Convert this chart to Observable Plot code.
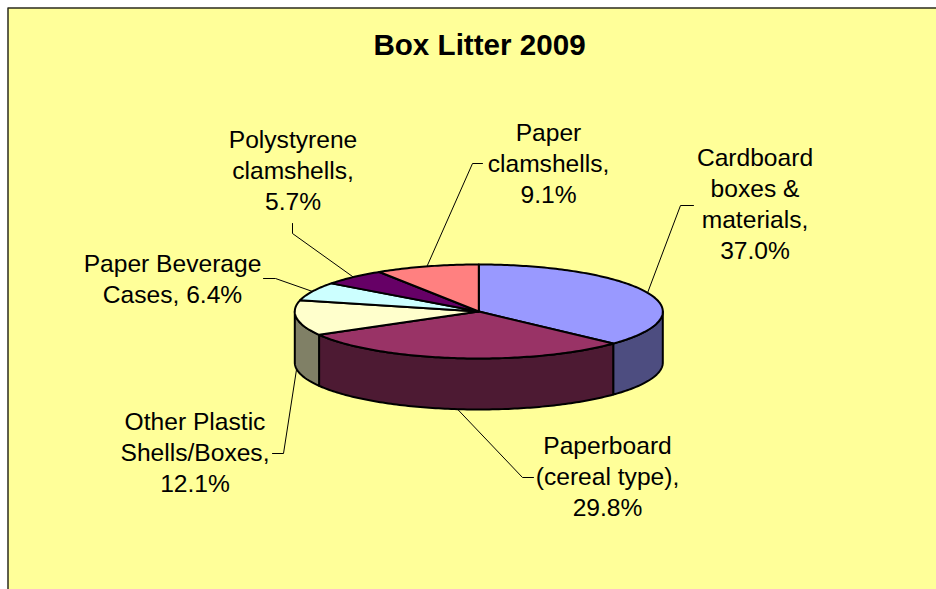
<!DOCTYPE html>
<html>
<head>
<meta charset="utf-8">
<script src="https://cdn.jsdelivr.net/npm/d3@7"></script>
<script src="https://cdn.jsdelivr.net/npm/@observablehq/plot@0.6"></script>
<style>html,body{margin:0;padding:0;background:#fff}svg{display:block}</style>
</head>
<body>
<div id="chart"></div>
<script>
const chartTitle = "Box Litter 2009";
const categories = ["Cardboard boxes & materials","Paperboard (cereal type)","Other Plastic Shells/Boxes","Paper Beverage Cases","Polystyrene clamshells","Paper clamshells"];
const labelLines = ["Cardboard\nboxes &\nmaterials,\n","Paperboard\n(cereal type),\n","Other Plastic\nShells/Boxes,\n","Paper Beverage\nCases, ","Polystyrene\nclamshells,\n","Paper\nclamshells,\n"];
const shares = [37.0,29.8,12.1,6.4,5.7,9.1];
const topColors = ["#9999FF","#993366","#FFFFCC","#CCFFFF","#660066","#FF8080"];
const sideColors = ["#4D4D80","#4D1A33","#808066","#668080","#330033","#804040"];

// layout (separate from the data)
const W = 936, H = 589;
const pie = {cx:478.3, cy:311, rx:184, ry:47, depth:51};
const labelPos = [[754.5,202.5],[607,475],[194.5,451],[172,277],[292.5,169],[548,162]];
const elbows = [[[693,205],[680,205]],[[533,477],[522,477]],[[272,453],[283,453]],[[263,278],[275,278]],[[292,223],[292,233]],[[482,163],[472,163]]];

const total = d3.sum(shares);
const cum = d3.cumsum(shares);
const px = a => pie.cx + pie.rx*Math.sin(a*Math.PI/180);
const py = (a,drop=0) => pie.cy - pie.ry*Math.cos(a*Math.PI/180) + drop;
const arc = (a,b) => {const n=Math.max(2,Math.ceil(Math.abs(b-a))),o=[];for(let i=0;i<=n;i++)o.push(a+(b-a)*i/n);return o;};

const tops=[], sides=[], leaders=[], labels=[];
categories.forEach((name,i)=>{
  const a0=(cum[i]-shares[i])/total*360, a1=cum[i]/total*360, mid=(a0+a1)/2;
  const c={key:name,fill:topColors[i]};
  tops.push({...c,x:pie.cx,y:pie.cy});
  arc(a0,a1).forEach(a=>tops.push({...c,x:px(a),y:py(a)}));
  tops.push({...c,x:pie.cx,y:pie.cy});
  const s0=Math.max(a0,90), s1=Math.min(a1,270);
  if(s1>s0){
    const sc={key:name,fill:sideColors[i]};
    const pts=[...arc(s0,s1).map(a=>({...sc,x:px(a),y:py(a)})),...arc(s1,s0).map(a=>({...sc,x:px(a),y:py(a,pie.depth)}))];
    sides.push(...pts,pts[0]);
  }
  const onSide = mid>90 && mid<270;
  [...elbows[i],[px(mid),py(mid,onSide?pie.depth:0)]].forEach(p=>leaders.push({key:name,x:p[0],y:p[1]}));
  labels.push({x:labelPos[i][0],y:labelPos[i][1],text:`${labelLines[i]}${shares[i].toFixed(1)}%`});
});

const font={fontFamily:"'Liberation Sans',Arial,sans-serif"};
const frame=[{x:7.5,y:H},{x:7.5,y:7.5},{x:W,y:7.5}];

const plot = Plot.plot({
  width:W,height:H,margin:0,
  x:{domain:[0,W],range:[0,W],axis:null},
  y:{domain:[0,H],range:[0,H],axis:null},
  color:{type:"identity"},
  style:{background:"#fff",...font},
  marks:[
    Plot.rect([{x1:8,x2:W,y1:8,y2:H}],{x1:"x1",x2:"x2",y1:"y1",y2:"y2",fill:"#FFFF99"}),
    Plot.line(frame,{x:"x",y:"y",stroke:"#2b2b1e",strokeWidth:1.5}),
    Plot.line(leaders,{x:"x",y:"y",z:"key",stroke:"#000",strokeWidth:1}),
    Plot.line(sides,{x:"x",y:"y",z:"key",fill:"fill",stroke:"#000",strokeWidth:2}),
    Plot.line(tops,{x:"x",y:"y",z:"key",fill:"fill",stroke:"#000",strokeWidth:2}),
    Plot.text(labels,{x:"x",y:"y",text:"text",fontSize:24.6,lineHeight:1.26,fill:"#000",textAnchor:"middle",...font}),
    Plot.text([chartTitle],{x:()=>479,y:()=>45,text:d=>d,fontSize:29.6,fontWeight:"bold",fill:"#000",textAnchor:"middle",...font})
  ]
});
document.getElementById("chart").appendChild(plot);
</script>
</body>
</html>
